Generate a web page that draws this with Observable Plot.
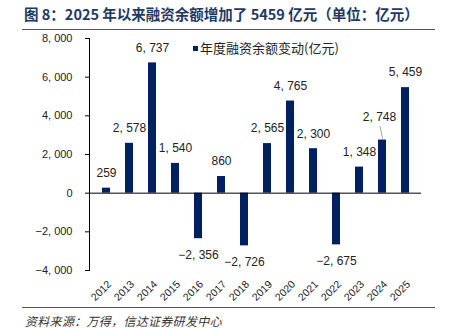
<!DOCTYPE html>
<html><head><meta charset="utf-8">
<script src="https://cdn.jsdelivr.net/npm/d3@7"></script>
<script src="https://cdn.jsdelivr.net/npm/@observablehq/plot@0.6"></script>
<style>
body{margin:0;background:#fff;}
#wrap{position:relative;width:452px;height:328px;overflow:hidden;background:#fff;}
#title{position:absolute;left:24px;top:4px;font:bold 14.5px "Noto Sans CJK SC";color:#1f3864;white-space:nowrap;line-height:20px;}
.hr{position:absolute;left:22px;width:413px;height:0;border-top:1px solid #555;}
#chart{position:absolute;left:0;top:32px;}
#legend{position:absolute;left:193px;top:39px;font:13px "Noto Sans CJK SC";color:#222;display:flex;align-items:center;white-space:nowrap;line-height:18px;}
#legend .sw{width:5px;height:5px;background:#002060;margin-right:2px;}
#source{position:absolute;left:25px;top:312px;font:italic 12px "Noto Sans CJK SC";color:#333;white-space:nowrap;line-height:18px;letter-spacing:0.3px;}
</style></head>
<body>
<div id="wrap">
  <div id="title"></div>
  <div class="hr" style="top:29px"></div>
  <div id="chart"></div>
  <div id="legend"><div class="sw"></div><span id="legtext"></span></div>
  <div class="hr" style="top:307px"></div>
  <div id="source"></div>
</div>
<script>
const titleText = "图 8：2025 年以来融资余额增加了 5459 亿元（单位：亿元）";
const seriesName = "年度融资余额变动(亿元)";
const sourceText = "资料来源：万得，信达证券研发中心";
const years = ["2012","2013","2014","2015","2016","2017","2018","2019","2020","2021","2022","2023","2024","2025"];
const changes = [259, 2578, 6737, 1540, -2356, 860, -2726, 2565, 4765, 2300, -2675, 1348, 2748, 5459];
const yTicks = [-4000, -2000, 0, 2000, 4000, 6000, 8000];
const yDomain = [-4000, 8000];

document.getElementById("title").textContent = titleText;
document.getElementById("legtext").textContent = seriesName;
document.getElementById("source").textContent = sourceText;

const data = years.map((y, i) => ({year: y, value: changes[i]}));
const fmt = v => d3.format(",")(v).replace(",", ", ");
const barColor = "#002060";
const special = "2024";

const chart = Plot.plot({
  width: 452, height: 276,
  marginTop: 6, marginBottom: 38, marginLeft: 89, marginRight: 31,
  x: {domain: years, paddingInner: 0.66, paddingOuter: 0.336, label: null, axis: null},
  y: {domain: yDomain, label: null},
  style: {fontFamily: "'Liberation Sans', Arial, sans-serif", background: "white", color: "#222"},
  marks: [
    Plot.barY(data, {x: "year", y: "value", fill: barColor}),
    Plot.ruleY([0], {stroke: "#000", strokeWidth: 1}),
    Plot.frame({anchor: "left", stroke: "#000"}),
    Plot.axisY({ticks: yTicks, tickSize: 4, tickPadding: 13, tickFormat: fmt, fontSize: 11, stroke: "#000", label: null}),
    Plot.text(years, {x: d => d, frameAnchor: "bottom", text: d => d, rotate: -45, textAnchor: "end", lineAnchor: "middle", dy: 12, dx: 3, fontSize: 10.5, fill: "#222"}),
    Plot.text(data, {filter: d => d.value > 0 && d.year !== special, x: "year", y: "value", text: d => fmt(d.value), dy: -15, fontSize: 12, fill: "#222"}),
    Plot.text(data, {filter: d => d.value < 0, x: "year", y: "value", text: d => fmt(d.value), dy: 16, fontSize: 12, fill: "#222"}),
    Plot.text(data, {filter: d => d.year === special, x: "year", y: "value", text: d => fmt(d.value), dy: -23, dx: -3, fontSize: 12, fill: "#222"}),
    Plot.vector(data, {filter: d => d.year === special, x: "year", y: "value", length: 12, rotate: -12, anchor: "start", dy: -2, stroke: "#a6a6a6", strokeWidth: 1,
      shape: {draw(ctx, l) { ctx.moveTo(0, 0); ctx.lineTo(0, -l); }}})
  ]
});
document.getElementById("chart").appendChild(chart);
</script>
</body></html>
